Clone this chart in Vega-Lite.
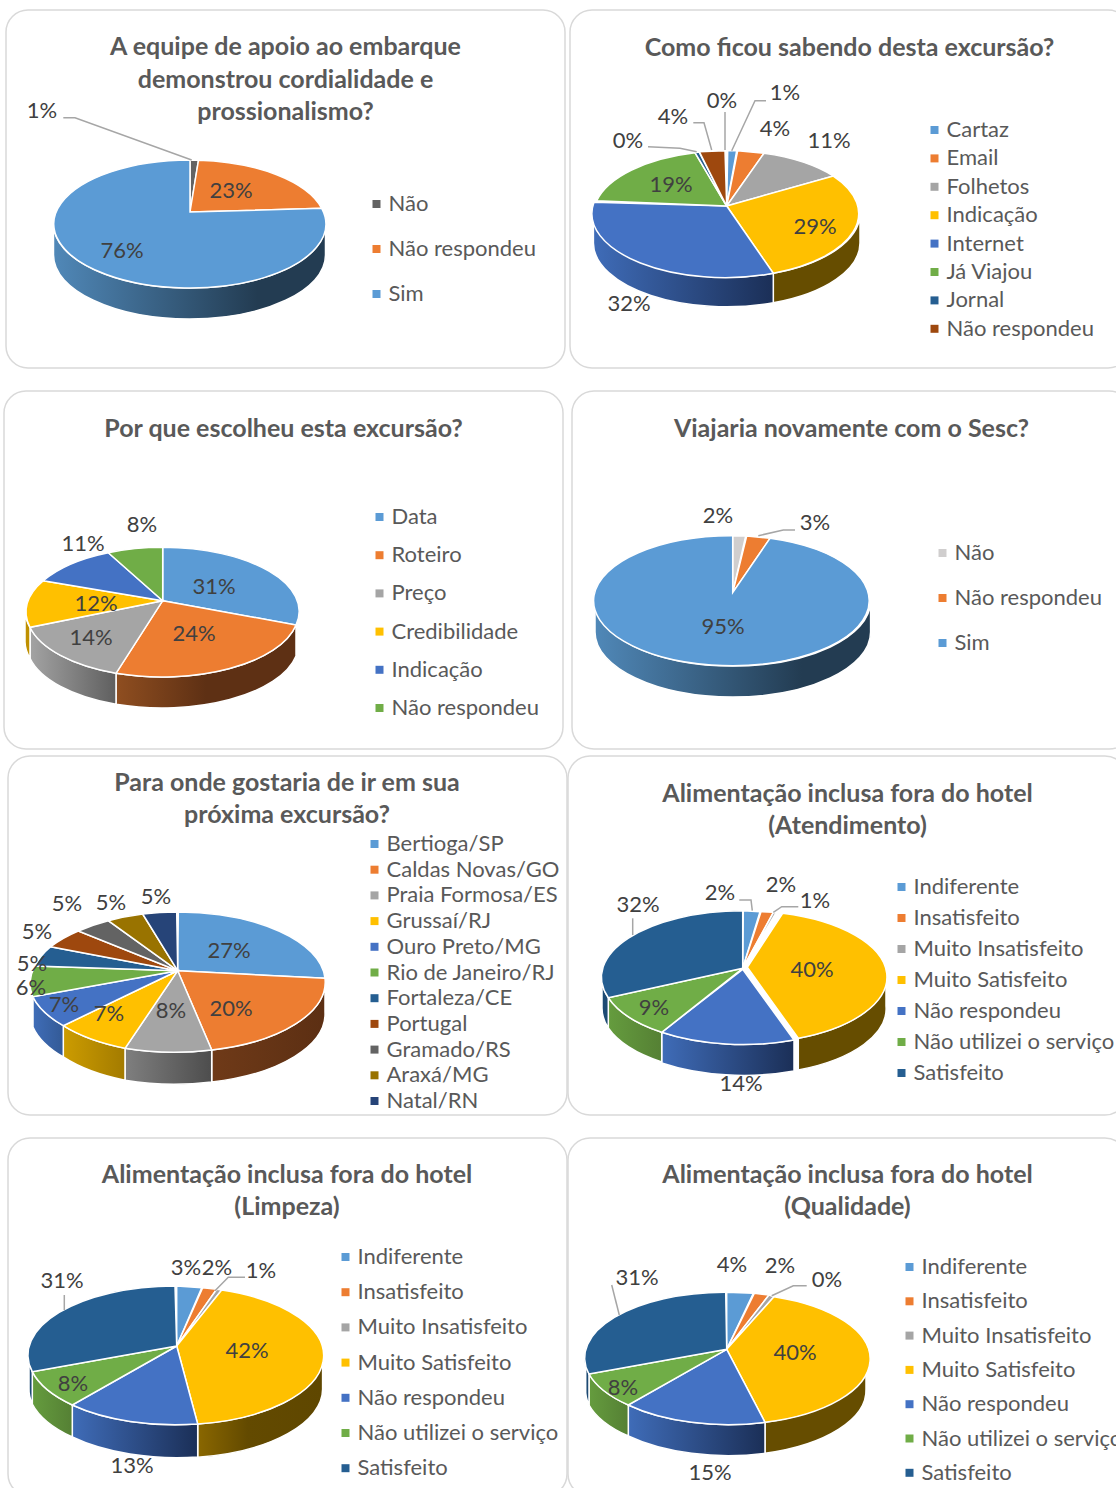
{"$schema":"https://vega.github.io/schema/vega-lite/v6.json","background":"white","padding":{"left":1,"top":7,"right":0,"bottom":0},"bounds":"flush","columns":2,"spacing":{"column":5,"row":0},
"resolve":{"scale":{"color":"independent","shape":"independent","x":"independent","y":"independent"},"legend":{"color":"independent"}},
"config":{"view":{"stroke":null},"font":"Lato","title":{"font":"Lato","fontSize":25,"fontWeight":"bold","color":"#595959","anchor":"middle","frame":"group","baseline":"top","offset":0,"lineHeight":32.5},"legend":{"symbolType":"square","symbolSize":64,"symbolStrokeWidth":0,"labelFont":"Lato","labelFontSize":22,"labelColor":"#595959","labelOffset":1,"labelLimit":400,"padding":0,"title":null,"orient":"none"}},
"concat":[
{"width":559,"height":381,"title":{"text":["A equipe de apoio ao embarque","demonstrou cordialidade e","prossionalismo?"],"dy":122},
"data":{"values":[{"slice":1,"cat":"Não","value":0.01},{"slice":2,"cat":"Não respondeu","value":0.23},{"slice":3,"cat":"Sim","value":0.76}]},
"layer":[{"encoding":{"x":{"datum":0,"type":"quantitative","axis":null,"scale":{"domain":[0,1],"range":[-6,0]}},"y":{"datum":0,"type":"quantitative","axis":null,"scale":{"domain":[0,1],"range":[-10,0]}}},
"layer":[
{"transform":[{"filter":"datum.slice===1"}],"mark":{"type":"point","filled":false,"size":4,"opacity":1,"stroke":"#d9d9d9","strokeWidth":1.5,"shape":"M28 10L543 10A22 22 0 0 1 565 32L565 346A22 22 0 0 1 543 368L28 368A22 22 0 0 1 6 346L6 32A22 22 0 0 1 28 10Z"}},
{"transform":[{"filter":{"field":"cat","oneOf":["Sim"]}}],"mark":{"type":"point","filled":true,"size":4,"opacity":1,"stroke":"#fff","strokeWidth":1.5},
"encoding":{"shape":{"field":"cat","type":"nominal","legend":null,"scale":{"domain":["Sim"],"range":["M53.5 224A136 64 0 0 0 325.5 224L325.5 255A136 64 0 0 1 53.5 255Z"]}},
"fill":{"value":{"gradient":"linear","x1":0,"y1":0,"x2":1,"y2":0,"stops":[{"offset":0,"color":"#5088b8"},{"offset":0.75,"color":"#233c52"},{"offset":1,"color":"#233c52"}]}}}},
{"mark":{"type":"point","filled":true,"size":4,"opacity":1,"stroke":"#fff","strokeWidth":1.5},
"encoding":{"shape":{"field":"cat","type":"nominal","legend":null,"scale":{"domain":["Não","Não respondeu","Sim"],"range":["M190 212L190 160L198.5 160.2Z","M190 212L198.5 160.2A136 64 0 0 1 321.7 208.3Z","M190 212L321.7 208.3A136 64 0 1 1 190 160Z"]}},
"color":{"field":"cat","type":"nominal","scale":{"domain":["Não","Não respondeu","Sim"],"range":["#636363","#ED7D31","#5B9BD5"]},"legend":{"legendX":359.5,"legendY":183,"rowPadding":23}}}},
{"transform":[{"filter":{"field":"cat","oneOf":["Não"]}}],"mark":{"type":"point","filled":false,"size":4,"opacity":1,"stroke":"#a6a6a6","strokeWidth":1.5},
"encoding":{"shape":{"field":"cat","type":"nominal","legend":null,"scale":{"domain":["Não"],"range":["M63.3 117.7L75 117.7L191.7 160"]}}}}
],"resolve":{"scale":{"shape":"independent"}}},
{"mark":{"type":"text","font":"Lato","fontSize":22,"color":"#404040","align":"center","baseline":"middle"},
"encoding":{"x":{"field":"slice","type":"quantitative","axis":null,"scale":{"zero":false,"nice":false,"domain":[1,2,3],"range":[36,225,116]}},"y":{"field":"slice","type":"quantitative","axis":null,"scale":{"zero":false,"nice":false,"domain":[1,2,3],"range":[101,181,241]}},"text":{"field":"value","type":"quantitative","format":".0%"}}}
],"resolve":{"scale":{"x":"independent","y":"independent","shape":"independent"}}},

{"width":559,"height":381,"title":{"text":"Como ficou sabendo desta excursão?","dy":58},
"data":{"values":[{"slice":1,"cat":"Cartaz","value":0.01},{"slice":2,"cat":"Email","value":0.04},{"slice":3,"cat":"Folhetos","value":0.11},{"slice":4,"cat":"Indicação","value":0.29},{"slice":5,"cat":"Internet","value":0.32},{"slice":6,"cat":"Já Viajou","value":0.19},{"slice":7,"cat":"Jornal","value":0},{"slice":8,"cat":"Não respondeu","value":0.04},{"slice":9,"cat":"Outros","value":0}]},
"layer":[{"encoding":{"x":{"datum":0,"type":"quantitative","axis":null,"scale":{"domain":[0,1],"range":[-570,0]}},"y":{"datum":0,"type":"quantitative","axis":null,"scale":{"domain":[0,1],"range":[-10,0]}}},
"layer":[
{"transform":[{"filter":"datum.slice===1"}],"mark":{"type":"point","filled":false,"size":4,"opacity":1,"stroke":"#d9d9d9","strokeWidth":1.5,"shape":"M592 10L1108 10A22 22 0 0 1 1130 32L1130 346A22 22 0 0 1 1108 368L592 368A22 22 0 0 1 570 346L570 32A22 22 0 0 1 592 10Z"}},
{"transform":[{"filter":{"field":"cat","oneOf":["Indicação","Internet"]}}],"mark":{"type":"point","filled":true,"size":4,"opacity":1,"stroke":"#fff","strokeWidth":1.5},
"encoding":{"shape":{"field":"cat","type":"nominal","legend":null,"scale":{"domain":["Indicação","Internet"],"range":["M860 214L860 243A133.3 64 0 0 1 773.3 302.8L773.3 273.3A133.3 64 0 0 0 860 214Z","M773.3 273.3L773.3 302.8A133.3 64 0 0 1 593.4 243L593.4 214A133.3 64 0 0 0 773.3 273.3Z"]}},
"fill":{"condition":[{"test":"datum.cat==='Internet'","value":{"gradient":"linear","x1":0,"y1":0,"x2":1,"y2":0,"stops":[{"offset":0,"color":"#3f6cb8"},{"offset":1,"color":"#1b2f57"}]}}],"value":"#664d00"}}},
{"transform":[{"filter":"datum.cat!=='Outros'"}],"mark":{"type":"point","filled":true,"size":4,"opacity":1,"stroke":"#fff","strokeWidth":1.5},
"encoding":{"shape":{"field":"cat","type":"nominal","legend":null,"scale":{"domain":["Cartaz","Email","Folhetos","Indicação","Internet","Já Viajou","Jornal","Não respondeu"],"range":["M726.7 206L727.7 150.7L736.7 150.7Z","M726.7 206L737.7 150.7L764 153.3Z","M726.7 206L764 153.3A133.3 64 0 0 1 833.3 176Z","M726.7 206L833.3 176A133.3 64 0 0 1 773.3 273.3Z","M726.7 206L773.3 273.3A133.3 64 0 0 1 594 202.3Z","M726.7 206L596.7 200.7A133.3 64 0 0 1 695 152.7Z","M726.7 206L695 152.7L699 152Z","M726.7 206L699.3 151.7L725 150.7Z"]}},
"color":{"field":"cat","type":"nominal","scale":{"domain":["Cartaz","Email","Folhetos","Indicação","Internet","Já Viajou","Jornal","Não respondeu"],"range":["#5B9BD5","#ED7D31","#A5A5A5","#FFC000","#4472C4","#70AD47","#255E91","#9E480E"]},"legend":{"legendX":353.5,"legendY":109,"rowPadding":6.4}}}},
{"transform":[{"filter":{"field":"cat","oneOf":["Cartaz","Jornal","Não respondeu","Outros"]}}],"mark":{"type":"point","filled":false,"size":4,"opacity":1,"stroke":"#a6a6a6","strokeWidth":1.5},
"encoding":{"shape":{"field":"cat","type":"nominal","legend":null,"scale":{"domain":["Cartaz","Jornal","Não respondeu","Outros"],"range":["M731.7 150.7L755 100.7L766 100.7","M696.7 151.7L680 148.3L648 146.7","M711.7 150L704 122.7L693.3 122.7","M725 112L725 150"]}}}}
],"resolve":{"scale":{"shape":"independent"}}},
{"mark":{"type":"text","font":"Lato","fontSize":22,"color":"#404040","align":"center","baseline":"middle"},
"encoding":{"x":{"field":"slice","type":"quantitative","axis":null,"scale":{"zero":false,"nice":false,"domain":[1,2,3,4,5,6,7,8,9],"range":[215,205,259,245,59,101,58,103,152]}},"y":{"field":"slice","type":"quantitative","axis":null,"scale":{"zero":false,"nice":false,"domain":[1,2,3,4,5,6,7,8,9],"range":[83,119,131,217,294,175,131,107,91]}},"text":{"field":"value","type":"quantitative","format":".0%"}}}
],"resolve":{"scale":{"x":"independent","y":"independent","shape":"independent"}}},

{"width":559,"height":365,"title":{"text":"Por que escolheu esta excursão?","dy":58,"dx":-2},
"data":{"values":[{"slice":1,"cat":"Data","value":0.31},{"slice":2,"cat":"Roteiro","value":0.24},{"slice":3,"cat":"Preço","value":0.14},{"slice":4,"cat":"Credibilidade","value":0.12},{"slice":5,"cat":"Indicação","value":0.11},{"slice":6,"cat":"Não respondeu","value":0.08}]},
"layer":[{"encoding":{"x":{"datum":0,"type":"quantitative","axis":null,"scale":{"domain":[0,1],"range":[-6,0]}},"y":{"datum":0,"type":"quantitative","axis":null,"scale":{"domain":[0,1],"range":[-391,0]}}},
"layer":[
{"transform":[{"filter":"datum.slice===1"}],"mark":{"type":"point","filled":false,"size":4,"opacity":1,"stroke":"#d9d9d9","strokeWidth":1.5,"shape":"M26 391L541 391A22 22 0 0 1 563 413L563 727A22 22 0 0 1 541 749L26 749A22 22 0 0 1 4 727L4 413A22 22 0 0 1 26 391Z"}},
{"transform":[{"filter":{"field":"cat","oneOf":["Roteiro","Preço","Credibilidade"]}}],"mark":{"type":"point","filled":true,"size":4,"opacity":1,"stroke":"#fff","strokeWidth":1.5},
"encoding":{"shape":{"field":"cat","type":"nominal","legend":null,"scale":{"domain":["Roteiro","Preço","Credibilidade"],"range":["M296 625L296 656A136.7 64 0 0 1 116 704.3L116 673.3A136.7 64 0 0 0 296 625Z","M116 673.3L116 704.3A136.7 64 0 0 1 30 658.3L30 627.3A136.7 64 0 0 0 116 673.3Z","M30 627.3L30 658.3A136.7 64 0 0 1 25 642L25 611A136.7 64 0 0 0 30 627.3Z"]}},
"fill":{"condition":[{"test":"datum.cat==='Roteiro'","value":{"gradient":"linear","x1":0,"y1":0,"x2":1,"y2":0,"stops":[{"offset":0,"color":"#8f4e20"},{"offset":0.5,"color":"#5e3014"},{"offset":1,"color":"#5e3014"}]}},{"test":"datum.cat==='Preço'","value":{"gradient":"linear","x1":0,"y1":0,"x2":1,"y2":0,"stops":[{"offset":0,"color":"#a3a3a3"},{"offset":1,"color":"#5f5f5f"}]}}],"value":"#bf9000"}}},
{"mark":{"type":"point","filled":true,"size":4,"opacity":1,"stroke":"#fff","strokeWidth":1.5},
"encoding":{"shape":{"field":"cat","type":"nominal","legend":null,"scale":{"domain":["Data","Roteiro","Preço","Credibilidade","Indicação","Não respondeu"],"range":["M162.7 600.7L162.7 547.3A136.7 64 0 0 1 296 625Z","M162.7 600.7L296 625A136.7 64 0 0 1 116 673.3Z","M162.7 600.7L116 673.3A136.7 64 0 0 1 30 627.3Z","M162.7 600.7L30 627.3A136.7 64 0 0 1 43.3 580.7Z","M162.7 600.7L43.3 580.7A136.7 64 0 0 1 108.3 552.7Z","M162.7 600.7L108.3 552.7A136.7 64 0 0 1 162.7 547.3Z"]}},
"color":{"field":"cat","type":"nominal","scale":{"domain":["Data","Roteiro","Preço","Credibilidade","Indicação","Não respondeu"],"range":["#5B9BD5","#ED7D31","#A5A5A5","#FFC000","#4472C4","#70AD47"]},"legend":{"legendX":362.5,"legendY":115,"rowPadding":16.2}}}}
],"resolve":{"scale":{"shape":"independent"}}},
{"mark":{"type":"text","font":"Lato","fontSize":22,"color":"#404040","align":"center","baseline":"middle"},
"encoding":{"x":{"field":"slice","type":"quantitative","axis":null,"scale":{"zero":false,"nice":false,"domain":[1,2,3,4,5,6],"range":[208,188,85,90,77,136]}},"y":{"field":"slice","type":"quantitative","axis":null,"scale":{"zero":false,"nice":false,"domain":[1,2,3,4,5,6],"range":[196,243,247,213,153,134]}},"text":{"field":"value","type":"quantitative","format":".0%"}}}
],"resolve":{"scale":{"x":"independent","y":"independent","shape":"independent"}}},

{"width":559,"height":365,"title":{"text":"Viajaria novamente com o Sesc?","dy":58,"dx":2},
"data":{"values":[{"slice":1,"cat":"Não","value":0.02},{"slice":2,"cat":"Não respondeu","value":0.03},{"slice":3,"cat":"Sim","value":0.95}]},
"layer":[{"encoding":{"x":{"datum":0,"type":"quantitative","axis":null,"scale":{"domain":[0,1],"range":[-570,0]}},"y":{"datum":0,"type":"quantitative","axis":null,"scale":{"domain":[0,1],"range":[-391,0]}}},
"layer":[
{"transform":[{"filter":"datum.slice===1"}],"mark":{"type":"point","filled":false,"size":4,"opacity":1,"stroke":"#d9d9d9","strokeWidth":1.5,"shape":"M594 391L1109 391A22 22 0 0 1 1131 413L1131 727A22 22 0 0 1 1109 749L594 749A22 22 0 0 1 572 727L572 413A22 22 0 0 1 594 391Z"}},
{"transform":[{"filter":{"field":"cat","oneOf":["Sim"]}}],"mark":{"type":"point","filled":true,"size":4,"opacity":1,"stroke":"#fff","strokeWidth":1.5},
"encoding":{"shape":{"field":"cat","type":"nominal","legend":null,"scale":{"domain":["Sim"],"range":["M595 601A137.8 65 0 0 0 870.6 601L870.6 632A137.8 65 0 0 1 595 632Z"]}},
"fill":{"value":{"gradient":"linear","x1":0,"y1":0,"x2":1,"y2":0,"stops":[{"offset":0,"color":"#5088b8"},{"offset":0.75,"color":"#233c52"},{"offset":1,"color":"#233c52"}]}}}},
{"mark":{"type":"point","filled":true,"size":4,"opacity":1,"stroke":"#fff","strokeWidth":1.5},
"encoding":{"shape":{"field":"cat","type":"nominal","legend":null,"scale":{"domain":["Não","Não respondeu","Sim"],"range":["M732.7 592.7L732.7 535.7L745.7 536Z","M732.7 592.7L746.7 536L770 538.3Z","M732.7 592.7L770 538.3A137.8 65 0 1 1 732.7 535.7Z"]}},
"color":{"field":"cat","type":"nominal","scale":{"domain":["Não","Não respondeu","Sim"],"range":["#D0CECE","#ED7D31","#5B9BD5"]},"legend":{"legendX":361.5,"legendY":151,"rowPadding":23}}}},
{"transform":[{"filter":{"field":"cat","oneOf":["Não respondeu"]}}],"mark":{"type":"point","filled":false,"size":4,"opacity":1,"stroke":"#a6a6a6","strokeWidth":1.5},
"encoding":{"shape":{"field":"cat","type":"nominal","legend":null,"scale":{"domain":["Não respondeu"],"range":["M758.3 535.7L783.3 530L795 530"]}}}}
],"resolve":{"scale":{"shape":"independent"}}},
{"mark":{"type":"text","font":"Lato","fontSize":22,"color":"#404040","align":"center","baseline":"middle"},
"encoding":{"x":{"field":"slice","type":"quantitative","axis":null,"scale":{"zero":false,"nice":false,"domain":[1,2,3],"range":[148,245,153]}},"y":{"field":"slice","type":"quantitative","axis":null,"scale":{"zero":false,"nice":false,"domain":[1,2,3],"range":[125,132,236]}},"text":{"field":"value","type":"quantitative","format":".0%"}}}
],"resolve":{"scale":{"x":"independent","y":"independent","shape":"independent"}}},

{"width":559,"height":382,"title":{"text":["Para onde gostaria de ir em sua","próxima excursão?"],"dy":79,"dx":1.5},
"data":{"values":[{"slice":1,"cat":"Bertioga/SP","value":0.27},{"slice":2,"cat":"Caldas Novas/GO","value":0.20},{"slice":3,"cat":"Praia Formosa/ES","value":0.08},{"slice":4,"cat":"Grussaí/RJ","value":0.07},{"slice":5,"cat":"Ouro Preto/MG","value":0.07},{"slice":6,"cat":"Rio de Janeiro/RJ","value":0.06},{"slice":7,"cat":"Fortaleza/CE","value":0.05},{"slice":8,"cat":"Portugal","value":0.05},{"slice":9,"cat":"Gramado/RS","value":0.05},{"slice":10,"cat":"Araxá/MG","value":0.05},{"slice":11,"cat":"Natal/RN","value":0.05}]},
"layer":[{"encoding":{"x":{"datum":0,"type":"quantitative","axis":null,"scale":{"domain":[0,1],"range":[-6,0]}},"y":{"datum":0,"type":"quantitative","axis":null,"scale":{"domain":[0,1],"range":[-756,0]}}},
"layer":[
{"transform":[{"filter":"datum.slice===1"}],"mark":{"type":"point","filled":false,"size":4,"opacity":1,"stroke":"#d9d9d9","strokeWidth":1.5,"shape":"M30 756L545 756A22 22 0 0 1 567 778L567 1093A22 22 0 0 1 545 1115L30 1115A22 22 0 0 1 8 1093L8 778A22 22 0 0 1 30 756Z"}},
{"transform":[{"filter":{"field":"cat","oneOf":["Caldas Novas/GO","Praia Formosa/ES","Grussaí/RJ","Ouro Preto/MG"]}}],"mark":{"type":"point","filled":true,"size":4,"opacity":1,"stroke":"#fff","strokeWidth":1.5},
"encoding":{"shape":{"field":"cat","type":"nominal","legend":null,"scale":{"domain":["Caldas Novas/GO","Praia Formosa/ES","Grussaí/RJ","Ouro Preto/MG"],"range":["M325 980L325 1012A147.5 70 0 0 1 211.7 1082L211.7 1050A147.5 70 0 0 0 325 980Z","M211.7 1050L211.7 1082A147.5 70 0 0 1 125 1080.3L125 1048.3A147.5 70 0 0 0 211.7 1050Z","M125 1048.3L125 1080.3A147.5 70 0 0 1 63.3 1057L63.3 1025.7A147.5 70 0 0 0 125 1048.3Z","M63.3 1025.7L63.3 1057A147.5 70 0 0 1 33 1027L33 996.7A147.5 70 0 0 0 63.3 1025.7Z"]}},
"fill":{"condition":[{"test":"datum.cat==='Caldas Novas/GO'","value":{"gradient":"linear","x1":0,"y1":0,"x2":1,"y2":0,"stops":[{"offset":0,"color":"#6f3a18"},{"offset":1,"color":"#5c2f13"}]}},{"test":"datum.cat==='Praia Formosa/ES'","value":{"gradient":"linear","x1":0,"y1":0,"x2":1,"y2":0,"stops":[{"offset":0,"color":"#7f7f7f"},{"offset":1,"color":"#4d4d4d"}]}},{"test":"datum.cat==='Grussaí/RJ'","value":{"gradient":"linear","x1":0,"y1":0,"x2":1,"y2":0,"stops":[{"offset":0,"color":"#cc9c00"},{"offset":1,"color":"#a37b00"}]}}],"value":{"gradient":"linear","x1":0,"y1":0,"x2":1,"y2":0,"stops":[{"offset":0,"color":"#3f6db8"},{"offset":1,"color":"#335a96"}]}}}},
{"mark":{"type":"point","filled":true,"size":4,"opacity":1,"stroke":"#fff","strokeWidth":1.5},
"encoding":{"shape":{"field":"cat","type":"nominal","legend":null,"scale":{"domain":["Bertioga/SP","Caldas Novas/GO","Praia Formosa/ES","Grussaí/RJ","Ouro Preto/MG","Rio de Janeiro/RJ","Fortaleza/CE","Portugal","Gramado/RS","Araxá/MG","Natal/RN"],"range":["M177.7 970.7L178.3 912A147.5 70 0 0 1 325 978.3Z","M177.7 970.7L325 978.3A147.5 70 0 0 1 211.7 1050Z","M177.7 970.7L211.7 1050A147.5 70 0 0 1 125 1048.3Z","M177.7 970.7L125 1048.3A147.5 70 0 0 1 63.3 1025.7Z","M177.7 970.7L63.3 1025.7A147.5 70 0 0 1 32.7 996.7Z","M177.7 970.7L32.7 996.7A147.5 70 0 0 1 35 966Z","M177.7 970.7L35 966A147.5 70 0 0 1 50.7 946.7Z","M177.7 970.7L50.7 946.7A147.5 70 0 0 1 78.3 931Z","M177.7 970.7L78.3 931A147.5 70 0 0 1 108.3 920.7Z","M177.7 970.7L108.3 920.7A147.5 70 0 0 1 142.7 914Z","M177.7 970.7L142.7 914A147.5 70 0 0 1 176.7 912Z"]}},
"color":{"field":"cat","type":"nominal","scale":{"domain":["Bertioga/SP","Caldas Novas/GO","Praia Formosa/ES","Grussaí/RJ","Ouro Preto/MG","Rio de Janeiro/RJ","Fortaleza/CE","Portugal","Gramado/RS","Araxá/MG","Natal/RN"],"range":["#5B9BD5","#ED7D31","#A5A5A5","#FFC000","#4472C4","#70AD47","#255E91","#9E480E","#636363","#997300","#264478"]},"legend":{"legendX":357.5,"legendY":77,"rowPadding":3.7}}}}
],"resolve":{"scale":{"shape":"independent"}}},
{"mark":{"type":"text","font":"Lato","fontSize":22,"color":"#404040","align":"center","baseline":"middle"},
"encoding":{"x":{"field":"slice","type":"quantitative","axis":null,"scale":{"zero":false,"nice":false,"domain":[1,2,3,4,5,6,7,8,9,10,11],"range":[223,225,165,103,58,25,26,31,61,105,150]}},"y":{"field":"slice","type":"quantitative","axis":null,"scale":{"zero":false,"nice":false,"domain":[1,2,3,4,5,6,7,8,9,10,11],"range":[195,253,255,258,249,232,208,176,148,147,141]}},"text":{"field":"value","type":"quantitative","format":".0%"}}}
],"resolve":{"scale":{"x":"independent","y":"independent","shape":"independent"}}},

{"width":559,"height":382,"title":{"text":["Alimentação inclusa fora do hotel","(Atendimento)"],"dy":90,"dx":-2},
"data":{"values":[{"slice":1,"cat":"Indiferente","value":0.02},{"slice":2,"cat":"Insatisfeito","value":0.02},{"slice":3,"cat":"Muito Insatisfeito","value":0.01},{"slice":4,"cat":"Muito Satisfeito","value":0.40},{"slice":5,"cat":"Não respondeu","value":0.14},{"slice":6,"cat":"Não utilizei o serviço","value":0.09},{"slice":7,"cat":"Satisfeito","value":0.32}]},
"layer":[{"encoding":{"x":{"datum":0,"type":"quantitative","axis":null,"scale":{"domain":[0,1],"range":[-570,0]}},"y":{"datum":0,"type":"quantitative","axis":null,"scale":{"domain":[0,1],"range":[-756,0]}}},
"layer":[
{"transform":[{"filter":"datum.slice===1"}],"mark":{"type":"point","filled":false,"size":4,"opacity":1,"stroke":"#d9d9d9","strokeWidth":1.5,"shape":"M590 756L1105 756A22 22 0 0 1 1127 778L1127 1093A22 22 0 0 1 1105 1115L590 1115A22 22 0 0 1 568 1093L568 778A22 22 0 0 1 590 756Z"}},
{"transform":[{"filter":{"field":"cat","oneOf":["Muito Satisfeito","Não respondeu","Não utilizei o serviço","Satisfeito"]}}],"mark":{"type":"point","filled":true,"size":4,"opacity":1,"stroke":"#fff","strokeWidth":1.5},
"encoding":{"shape":{"field":"cat","type":"nominal","legend":null,"scale":{"domain":["Muito Satisfeito","Não respondeu","Não utilizei o serviço","Satisfeito"],"range":["M886 975L886 1006A141 66 0 0 1 798.3 1070L798.3 1038.3A141 66 0 0 0 886 975Z","M794 1040L794 1071A141 66.5 0 0 1 661.7 1063L661.7 1032.3A141 66.5 0 0 0 794 1040Z","M661.7 1032.3L661.7 1062A141 66.5 0 0 1 608.3 1028L608.3 997.7A141 66.5 0 0 0 661.7 1032.3Z","M608.3 997.7L608.3 1028A141 66.5 0 0 1 602 1008L602 977A141 66.5 0 0 0 608.3 997.7Z"]}},
"fill":{"condition":[{"test":"datum.cat==='Muito Satisfeito'","value":"#664d00"},{"test":"datum.cat==='Não respondeu'","value":{"gradient":"linear","x1":0,"y1":0,"x2":1,"y2":0,"stops":[{"offset":0,"color":"#3f6cb8"},{"offset":1,"color":"#1b2f57"}]}},{"test":"datum.cat==='Não utilizei o serviço'","value":{"gradient":"linear","x1":0,"y1":0,"x2":1,"y2":0,"stops":[{"offset":0,"color":"#659c3e"},{"offset":1,"color":"#558034"}]}}],"value":"#1d4a73"}}},
{"mark":{"type":"point","filled":true,"size":4,"opacity":1,"stroke":"#fff","strokeWidth":1.5},
"encoding":{"shape":{"field":"cat","type":"nominal","legend":null,"scale":{"domain":["Indiferente","Insatisfeito","Muito Insatisfeito","Muito Satisfeito","Não respondeu","Não utilizei o serviço","Satisfeito"],"range":["M742.7 968.3L743.3 910.7L760 911.7Z","M742.7 968.3L761 911.7L773.3 912.3Z","M742.7 968.3L773.5 912.5L776 913Z","M747.3 967.3L782.7 913.3A141 66 0 0 1 798.3 1038.3Z","M742.7 969.3L794 1040A141 66.5 0 0 1 661.7 1032.3Z","M742.7 968.3L661.7 1032.3A141 66.5 0 0 1 608.3 997.7Z","M742.7 968.3L608.3 997.7A141 66.5 0 0 1 742.7 910.7Z"]}},
"color":{"field":"cat","type":"nominal","scale":{"domain":["Indiferente","Insatisfeito","Muito Insatisfeito","Muito Satisfeito","Não respondeu","Não utilizei o serviço","Satisfeito"],"range":["#5B9BD5","#ED7D31","#A5A5A5","#FFC000","#4472C4","#70AD47","#255E91"]},"legend":{"legendX":320.5,"legendY":120,"rowPadding":9}}}},
{"transform":[{"filter":{"field":"cat","oneOf":["Indiferente","Muito Insatisfeito","Satisfeito"]}}],"mark":{"type":"point","filled":false,"size":4,"opacity":1,"stroke":"#a6a6a6","strokeWidth":1.5},
"encoding":{"shape":{"field":"cat","type":"nominal","legend":null,"scale":{"domain":["Indiferente","Muito Insatisfeito","Satisfeito"],"range":["M739.3 900L751 900L752.3 910.7","M798.3 906.7L781.7 906.7L773.3 912.3","M632.7 918.3L632.7 935"]}}}}
],"resolve":{"scale":{"shape":"independent"}}},
{"mark":{"type":"text","font":"Lato","fontSize":22,"color":"#404040","align":"center","baseline":"middle"},
"encoding":{"x":{"field":"slice","type":"quantitative","axis":null,"scale":{"zero":false,"nice":false,"domain":[1,2,3,4,5,6,7],"range":[150,211,245,242,171,84,68]}},"y":{"field":"slice","type":"quantitative","axis":null,"scale":{"zero":false,"nice":false,"domain":[1,2,3,4,5,6,7],"range":[137,129,145,214,328,252,149]}},"text":{"field":"value","type":"quantitative","format":".0%"}}}
],"resolve":{"scale":{"x":"independent","y":"independent","shape":"independent"}}},

{"width":559,"height":358,"title":{"text":["Alimentação inclusa fora do hotel","(Limpeza)"],"dy":89,"dx":1.5},
"data":{"values":[{"slice":1,"cat":"Indiferente","value":0.03},{"slice":2,"cat":"Insatisfeito","value":0.02},{"slice":3,"cat":"Muito Insatisfeito","value":0.01},{"slice":4,"cat":"Muito Satisfeito","value":0.42},{"slice":5,"cat":"Não respondeu","value":0.13},{"slice":6,"cat":"Não utilizei o serviço","value":0.08},{"slice":7,"cat":"Satisfeito","value":0.31}]},
"layer":[{"encoding":{"x":{"datum":0,"type":"quantitative","axis":null,"scale":{"domain":[0,1],"range":[-6,0]}},"y":{"datum":0,"type":"quantitative","axis":null,"scale":{"domain":[0,1],"range":[-1138,0]}}},
"layer":[
{"transform":[{"filter":"datum.slice===1"}],"mark":{"type":"point","filled":false,"size":4,"opacity":1,"stroke":"#d9d9d9","strokeWidth":1.5,"shape":"M30 1138L545 1138A22 22 0 0 1 567 1160L567 1474A22 22 0 0 1 545 1496L30 1496A22 22 0 0 1 8 1474L8 1160A22 22 0 0 1 30 1138Z"}},
{"transform":[{"filter":{"field":"cat","oneOf":["Muito Satisfeito","Não respondeu","Não utilizei o serviço","Satisfeito"]}}],"mark":{"type":"point","filled":true,"size":4,"opacity":1,"stroke":"#fff","strokeWidth":1.5},
"encoding":{"shape":{"field":"cat","type":"nominal","legend":null,"scale":{"domain":["Muito Satisfeito","Não respondeu","Não utilizei o serviço","Satisfeito"],"range":["M322.6 1355L322.6 1388A146.8 69 0 0 1 197.7 1457.3L197.7 1424A146.8 69 0 0 0 322.6 1355Z","M197.7 1424L197.7 1457A146.8 69 0 0 1 72.3 1437L72.3 1405A146.8 69 0 0 0 197.7 1424Z","M72.3 1405L72.3 1437A146.8 69 0 0 1 32.3 1404L32.3 1371.7A146.8 69 0 0 0 72.3 1405Z","M32.3 1371.7L32.3 1404A146.8 69 0 0 1 29 1388L29 1355A146.8 69 0 0 0 32.3 1371.7Z"]}},
"fill":{"condition":[{"test":"datum.cat==='Muito Satisfeito'","value":{"gradient":"linear","x1":0,"y1":0,"x2":1,"y2":0,"stops":[{"offset":0,"color":"#8a6700"},{"offset":0.4,"color":"#634a00"},{"offset":1,"color":"#5f4700"}]}},{"test":"datum.cat==='Não respondeu'","value":{"gradient":"linear","x1":0,"y1":0,"x2":1,"y2":0,"stops":[{"offset":0,"color":"#3f6cb8"},{"offset":1,"color":"#1b2f57"}]}},{"test":"datum.cat==='Não utilizei o serviço'","value":{"gradient":"linear","x1":0,"y1":0,"x2":1,"y2":0,"stops":[{"offset":0,"color":"#659c3e"},{"offset":1,"color":"#558034"}]}}],"value":"#1d4a73"}}},
{"mark":{"type":"point","filled":true,"size":4,"opacity":1,"stroke":"#fff","strokeWidth":1.5},
"encoding":{"shape":{"field":"cat","type":"nominal","legend":null,"scale":{"domain":["Indiferente","Insatisfeito","Muito Insatisfeito","Muito Satisfeito","Não respondeu","Não utilizei o serviço","Satisfeito"],"range":["M176.7 1346L176.7 1286L201.7 1287.7Z","M176.7 1346L202.7 1287.7L216.7 1289.3Z","M176.7 1346L216.7 1289.3L221.7 1290Z","M176.7 1346L221.7 1290A146.8 69 0 0 1 197.7 1424Z","M176.7 1346L197.7 1424A146.8 69 0 0 1 72.3 1405Z","M176.7 1346L72.3 1405A146.8 69 0 0 1 32.3 1371.7Z","M176.7 1346L32.3 1371.7A146.8 69 0 0 1 175 1286Z"]}},
"color":{"field":"cat","type":"nominal","scale":{"domain":["Indiferente","Insatisfeito","Muito Insatisfeito","Muito Satisfeito","Não respondeu","Não utilizei o serviço","Satisfeito"],"range":["#5B9BD5","#ED7D31","#A5A5A5","#FFC000","#4472C4","#70AD47","#255E91"]},"legend":{"legendX":328.5,"legendY":108,"rowPadding":13.2}}}},
{"transform":[{"filter":{"field":"cat","oneOf":["Muito Insatisfeito","Satisfeito"]}}],"mark":{"type":"point","filled":false,"size":4,"opacity":1,"stroke":"#a6a6a6","strokeWidth":1.5},
"encoding":{"shape":{"field":"cat","type":"nominal","legend":null,"scale":{"domain":["Muito Insatisfeito","Satisfeito"],"range":["M245 1277.3L228.3 1277.3L215 1290.7","M64.3 1295L64.3 1310"]}}}}
],"resolve":{"scale":{"shape":"independent"}}},
{"mark":{"type":"text","font":"Lato","fontSize":22,"color":"#404040","align":"center","baseline":"middle"},
"encoding":{"x":{"field":"slice","type":"quantitative","axis":null,"scale":{"zero":false,"nice":false,"domain":[1,2,3,4,5,6,7],"range":[180,211,255,241,126,67,56]}},"y":{"field":"slice","type":"quantitative","axis":null,"scale":{"zero":false,"nice":false,"domain":[1,2,3,4,5,6,7],"range":[130,130,133,213,328,246,143]}},"text":{"field":"value","type":"quantitative","format":".0%"}}}
],"resolve":{"scale":{"x":"independent","y":"independent","shape":"independent"}}},

{"width":559,"height":358,"title":{"text":["Alimentação inclusa fora do hotel","(Qualidade)"],"dy":89,"dx":-2},
"data":{"values":[{"slice":1,"cat":"Indiferente","value":0.04},{"slice":2,"cat":"Insatisfeito","value":0.02},{"slice":3,"cat":"Muito Insatisfeito","value":0},{"slice":4,"cat":"Muito Satisfeito","value":0.40},{"slice":5,"cat":"Não respondeu","value":0.15},{"slice":6,"cat":"Não utilizei o serviço","value":0.08},{"slice":7,"cat":"Satisfeito","value":0.31}]},
"layer":[{"encoding":{"x":{"datum":0,"type":"quantitative","axis":null,"scale":{"domain":[0,1],"range":[-570,0]}},"y":{"datum":0,"type":"quantitative","axis":null,"scale":{"domain":[0,1],"range":[-1138,0]}}},
"layer":[
{"transform":[{"filter":"datum.slice===1"}],"mark":{"type":"point","filled":false,"size":4,"opacity":1,"stroke":"#d9d9d9","strokeWidth":1.5,"shape":"M590 1138L1105 1138A22 22 0 0 1 1127 1160L1127 1474A22 22 0 0 1 1105 1496L590 1496A22 22 0 0 1 568 1474L568 1160A22 22 0 0 1 590 1138Z"}},
{"transform":[{"filter":{"field":"cat","oneOf":["Muito Satisfeito","Não respondeu","Não utilizei o serviço","Satisfeito"]}}],"mark":{"type":"point","filled":true,"size":4,"opacity":1,"stroke":"#fff","strokeWidth":1.5},
"encoding":{"shape":{"field":"cat","type":"nominal","legend":null,"scale":{"domain":["Muito Satisfeito","Não respondeu","Não utilizei o serviço","Satisfeito"],"range":["M866 1358L866 1389A140.2 65.5 0 0 1 765 1453.3L765 1422.3A140.2 65.5 0 0 0 866 1358Z","M765 1422.3L765 1453.3A140.2 65.5 0 0 1 628.3 1436L628.3 1405A140.2 65.5 0 0 0 765 1422.3Z","M628.3 1405L628.3 1436A140.2 65.5 0 0 1 589 1405L589 1374A140.2 65.5 0 0 0 628.3 1405Z","M589 1374L589 1405A140.2 65.5 0 0 1 585.7 1389L585.7 1358A140.2 65.5 0 0 0 589 1374Z"]}},
"fill":{"condition":[{"test":"datum.cat==='Muito Satisfeito'","value":"#664d00"},{"test":"datum.cat==='Não respondeu'","value":{"gradient":"linear","x1":0,"y1":0,"x2":1,"y2":0,"stops":[{"offset":0,"color":"#3f6cb8"},{"offset":1,"color":"#1b2f57"}]}},{"test":"datum.cat==='Não utilizei o serviço'","value":{"gradient":"linear","x1":0,"y1":0,"x2":1,"y2":0,"stops":[{"offset":0,"color":"#659c3e"},{"offset":1,"color":"#558034"}]}}],"value":"#1d4a73"}}},
{"mark":{"type":"point","filled":true,"size":4,"opacity":1,"stroke":"#fff","strokeWidth":1.5},
"encoding":{"shape":{"field":"cat","type":"nominal","legend":null,"scale":{"domain":["Indiferente","Insatisfeito","Muito Insatisfeito","Muito Satisfeito","Não respondeu","Não utilizei o serviço","Satisfeito"],"range":["M726.7 1349.3L726.7 1292.3L753.3 1293.3Z","M726.7 1349.3L754.3 1293.3L769 1295Z","M726.7 1349.3L769 1295L774 1296.7Z","M726.7 1349.3L774 1296.7A140.2 65.5 0 0 1 765 1422.3Z","M726.7 1349.3L765 1422.3A140.2 65.5 0 0 1 628.3 1405Z","M726.7 1349.3L628.3 1405A140.2 65.5 0 0 1 589 1374Z","M726.7 1349.3L589 1374A140.2 65.5 0 0 1 725.7 1292.3Z"]}},
"color":{"field":"cat","type":"nominal","scale":{"domain":["Indiferente","Insatisfeito","Muito Insatisfeito","Muito Satisfeito","Não respondeu","Não utilizei o serviço","Satisfeito"],"range":["#5B9BD5","#ED7D31","#A5A5A5","#FFC000","#4472C4","#70AD47","#255E91"]},"legend":{"legendX":328.5,"legendY":118,"rowPadding":12.3}}}},
{"transform":[{"filter":{"field":"cat","oneOf":["Muito Insatisfeito","Satisfeito"]}}],"mark":{"type":"point","filled":false,"size":4,"opacity":1,"stroke":"#a6a6a6","strokeWidth":1.5},
"encoding":{"shape":{"field":"cat","type":"nominal","legend":null,"scale":{"domain":["Muito Insatisfeito","Satisfeito"],"range":["M806.7 1285.7L793.3 1285.7L771.7 1295.7","M611.7 1285L619.3 1315"]}}}}
],"resolve":{"scale":{"shape":"independent"}}},
{"mark":{"type":"text","font":"Lato","fontSize":22,"color":"#404040","align":"center","baseline":"middle"},
"encoding":{"x":{"field":"slice","type":"quantitative","axis":null,"scale":{"zero":false,"nice":false,"domain":[1,2,3,4,5,6,7],"range":[162,210,257,225,140,53,67]}},"y":{"field":"slice","type":"quantitative","axis":null,"scale":{"zero":false,"nice":false,"domain":[1,2,3,4,5,6,7],"range":[127,128,142,215,335,250,140]}},"text":{"field":"value","type":"quantitative","format":".0%"}}}
],"resolve":{"scale":{"x":"independent","y":"independent","shape":"independent"}}}
]}
